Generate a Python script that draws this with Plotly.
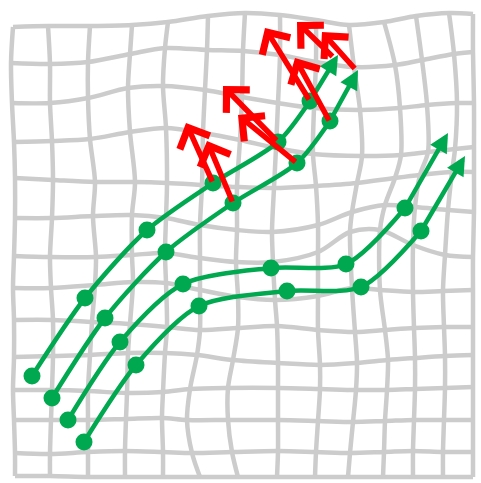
import plotly.graph_objects as go

# ---- warped background grid (pixel-space coordinates) ----
# y of horizontal line i at each of the 14 columns
grid_row_y = [
    [27, 26, 26, 25, 22, 16, 13, 15, 20, 25, 22, 16, 13, 14],
    [63, 64, 62, 54, 48, 50, 51, 55, 62, 67, 65, 60, 54, 52],
    [103, 103, 98, 88, 86, 90, 97, 103, 108, 110, 108, 105, 103, 103],
    [142, 141, 139, 132, 128, 133, 140, 148, 154, 156, 155, 152, 149, 147],
    [178, 180, 182, 182, 183, 185, 187, 188, 186, 183, 178, 175, 172, 172],
    [218, 218, 216, 215, 218, 225, 230, 232, 225, 212, 205, 207, 210, 212],
    [256, 257, 257, 255, 253, 258, 262, 262, 252, 232, 230, 245, 255, 257],
    [288, 288, 285, 282, 283, 290, 297, 300, 296, 288, 290, 292, 291, 290],
    [320, 320, 322, 324, 327, 330, 328, 326, 330, 332, 330, 328, 327, 327],
    [357, 356, 355, 353, 353, 355, 360, 363, 365, 363, 360, 358, 356, 355],
    [390, 390, 391, 393, 392, 389, 388, 388, 389, 390, 390, 389, 388, 387],
    [420, 420, 420, 419, 418, 420, 420, 420, 421, 422, 421, 420, 420, 420],
    [453, 454, 452, 451, 452, 453, 452, 451, 452, 453, 452, 451, 452, 452],
    [476, 476, 477, 477, 477, 477, 477, 477, 477, 477, 477, 477, 477, 477],
]
# x of vertical line j at each of the 14 rows
grid_col_x = [
    [13, 11, 12, 14, 15, 15, 14, 13, 14, 14, 13, 14, 15, 15],
    [48, 50, 50, 52, 53, 52, 50, 51, 53, 53, 52, 51, 50, 50],
    [90, 88, 88, 90, 95, 93, 96, 95, 92, 90, 88, 88, 88, 88],
    [132, 130, 128, 130, 135, 132, 132, 133, 130, 128, 127, 126, 125, 125],
    [168, 165, 163, 166, 167, 166, 165, 166, 167, 165, 163, 162, 163, 163],
    [208, 207, 205, 203, 202, 200, 200, 200, 200, 197, 190, 187, 192, 200],
    [245, 243, 242, 240, 237, 237, 236, 238, 238, 233, 228, 228, 232, 238],
    [280, 280, 278, 276, 274, 272, 273, 275, 277, 278, 278, 278, 278, 277],
    [316, 316, 314, 313, 316, 318, 318, 318, 318, 320, 320, 318, 316, 315],
    [349, 354, 360, 362, 357, 352, 350, 352, 355, 357, 356, 353, 350, 348],
    [384, 395, 400, 401, 395, 385, 380, 380, 385, 388, 387, 385, 384, 383],
    [416, 422, 427, 428, 420, 415, 413, 413, 414, 415, 415, 414, 413, 413],
    [449, 454, 457, 455, 452, 448, 445, 443, 444, 445, 445, 444, 443, 443],
    [473, 473, 474, 474, 474, 474, 473, 473, 473, 473, 473, 473, 473, 473],
]

# ---- green trajectories: dots and arrow tips ----
curve_a_x = [32, 85, 147, 213, 278, 310]
curve_a_y = [376, 298, 230, 183, 142, 101]
curve_a_tip = (338, 55)

curve_b_x = [52, 105, 166, 233, 297, 330]
curve_b_y = [398, 318, 252, 203, 163, 121]
curve_b_tip = (358, 70)

curve_c_x = [68, 120, 183, 271, 346, 405]
curve_c_y = [420, 342, 284, 268, 264, 208]
curve_c_tip = (448, 133)

curve_d_x = [84, 136, 199, 287, 361, 421]
curve_d_y = [442, 365, 306, 291, 287, 231]
curve_d_tip = (465, 156)

# ---- red vectors: base -> tip ----
red_base_x = [213, 233, 278, 297, 310, 330, 334, 356]
red_base_y = [183, 203, 142, 163, 101, 122, 58, 70]
red_tip_x = [186, 207, 223, 238, 265, 295, 297, 322]
red_tip_y = [123, 141, 86, 115, 28, 58, 22, 32]

GRID = "#cccccc"
GREEN = "#00a94f"
RED = "#ff0000"

fig = go.Figure()

n = len(grid_row_y)
for i in range(n):
    xs = [grid_col_x[j][i] for j in range(n)]
    ys = [grid_row_y[i][j] for j in range(n)]
    fig.add_trace(go.Scatter(x=xs, y=ys, mode="lines",
                             line=dict(color=GRID, width=4.5, shape="spline", smoothing=0.9),
                             hoverinfo="skip", showlegend=False))
for j in range(n):
    xs = [grid_col_x[j][i] for i in range(n)]
    ys = [grid_row_y[i][j] for i in range(n)]
    fig.add_trace(go.Scatter(x=xs, y=ys, mode="lines",
                             line=dict(color=GRID, width=4.5, shape="spline", smoothing=0.9),
                             hoverinfo="skip", showlegend=False))

annotations = []
for cx, cy, tip in [(curve_a_x, curve_a_y, curve_a_tip), (curve_b_x, curve_b_y, curve_b_tip),
                    (curve_c_x, curve_c_y, curve_c_tip), (curve_d_x, curve_d_y, curve_d_tip)]:
    fig.add_trace(go.Scatter(x=cx, y=cy, mode="lines+markers",
                             line=dict(color=GREEN, width=4.5, shape="spline", smoothing=0.8),
                             marker=dict(color=GREEN, size=17),
                             hoverinfo="skip", showlegend=False))
    annotations.append(dict(x=tip[0], y=tip[1], ax=cx[-1], ay=cy[-1],
                            xref="x", yref="y", axref="x", ayref="y",
                            text="", showarrow=True, arrowhead=2, arrowsize=0.85,
                            arrowwidth=4.5, arrowcolor=GREEN))

for bx, by, tx, ty in zip(red_base_x, red_base_y, red_tip_x, red_tip_y):
    annotations.append(dict(x=tx, y=ty, ax=bx, ay=by,
                            xref="x", yref="y", axref="x", ayref="y",
                            text="", showarrow=True, arrowhead=4, arrowsize=1.15,
                            arrowwidth=5.5, arrowcolor=RED))

fig.update_layout(
    width=481, height=483,
    margin=dict(l=0, r=0, t=0, b=0),
    paper_bgcolor="white", plot_bgcolor="white",
    xaxis=dict(range=[0, 481], visible=False, fixedrange=True),
    yaxis=dict(range=[483, 0], visible=False, fixedrange=True),
    annotations=annotations,
    showlegend=False,
)

fig.write_html("out.html", config={"displayModeBar": False},
               post_script="document.body.style.margin='0';document.body.style.overflow='hidden';")
